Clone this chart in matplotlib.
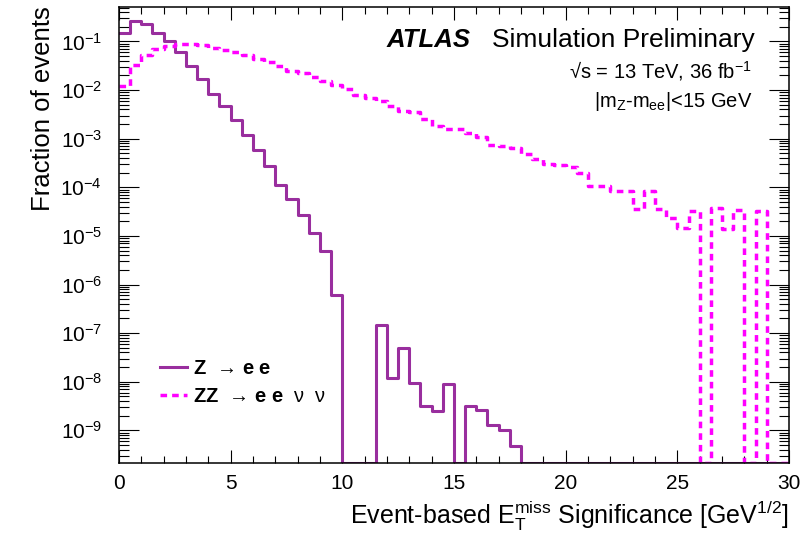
import numpy as np
import matplotlib
matplotlib.use("Agg")
import matplotlib.pyplot as plt
from matplotlib.ticker import LogLocator, NullFormatter, MultipleLocator

plt.rcParams["font.family"] = ["Liberation Sans", "DejaVu Sans"]
plt.rcParams["mathtext.fontset"] = "custom"
plt.rcParams["mathtext.rm"] = "Liberation Sans"
plt.rcParams["mathtext.it"] = "Liberation Sans:italic"
plt.rcParams["mathtext.bf"] = "Liberation Sans:bold"

# binning: 60 bins of 0.5 from 0 to 30
bin_edges = np.linspace(0, 30, 61)

# fraction of events, Z -> ee
z_ee = [
    0.153, 0.27, 0.228, 0.153, 0.103, 0.062, 0.032, 0.017, 0.0084, 0.0046,
    0.00237, 0.00117, 5.8e-4, 2.7e-4, 1.13e-4, 5.7e-5, 2.7e-5, 1.17e-5, 5.0e-6, 6.2e-7,
    0, 0, 0, 1.48e-7, 1.17e-8, 5.0e-8, 9.5e-9, 3.2e-9, 2.45e-9, 8.9e-9,
    0, 3.1e-9, 2.6e-9, 1.29e-9, 1.02e-9, 4.7e-10, 0, 0, 0, 0,
    0, 0, 0, 0, 0, 0, 0, 0, 0, 0,
    0, 0, 0, 0, 0, 0, 0, 0, 0, 0,
]

# fraction of events, ZZ -> ee nu nu
zz_eevv = [
    0.0123, 0.033, 0.052, 0.070, 0.082, 0.088, 0.088, 0.086, 0.075, 0.068,
    0.0605, 0.053, 0.044, 0.037, 0.0317, 0.025, 0.023, 0.0185, 0.0151, 0.0125,
    0.0105, 0.0080, 0.0068, 0.0061, 0.0048, 0.0038, 0.0035, 0.0026, 0.00186, 0.00158,
    0.00158, 0.0013, 0.00106, 7.4e-4, 7.1e-4, 6.5e-4, 4.8e-4, 3.8e-4, 2.95e-4, 2.85e-4,
    2.6e-4, 1.95e-4, 1.05e-4, 1.04e-4, 8.5e-5, 8.5e-5, 3.5e-5, 8.5e-5, 3.5e-5, 2.3e-5,
    1.45e-5, 3.3e-5, 0, 3.7e-5, 1.36e-5, 3.4e-5, 0, 3.2e-5, 0, 0,
]

labels = [
    r"$\mathbf{Z}$  → $\mathbf{e}$ $\mathbf{e}$",
    r"$\mathbf{ZZ}$  → $\mathbf{e}$ $\mathbf{e}$  ν  ν",
]

y_min, y_max = 2.1e-10, 0.52


def as_steps(values):
    # empty bins are drawn along the bottom of the frame, like ROOT does
    v = np.asarray(values, dtype=float)
    v = np.where(v > 0, v, y_min)
    return np.append(v, v[-1])


fig = plt.figure(figsize=(8.03, 5.48), dpi=100)
ax = fig.add_axes([0.148, 0.1546, 0.8346, 0.8332])

ax.step(bin_edges, as_steps(z_ee), where="post", color="#992e9e", lw=2.2,
        label=labels[0])
ax.step(bin_edges, as_steps(zz_eevv), where="post", color="#ff00ff", lw=2.5,
        linestyle=(0, (1.9, 1.45)), label=labels[1])

ax.set_yscale("log")
ax.set_xlim(0, 30)
ax.set_ylim(y_min, y_max)

ax.xaxis.set_major_locator(MultipleLocator(5))
ax.xaxis.set_minor_locator(MultipleLocator(1))
ax.yaxis.set_major_locator(LogLocator(base=10, numticks=100))
ax.yaxis.set_minor_locator(LogLocator(base=10, subs=np.arange(2, 10), numticks=100))
ax.yaxis.set_minor_formatter(NullFormatter())

ax.tick_params(which="both", direction="in", top=True, right=True, width=0.8,
               labelsize=15)
ax.tick_params(axis="x", which="major", length=9.6, pad=8)
ax.tick_params(axis="x", which="minor", length=4.8)
ax.tick_params(axis="y", which="major", length=14.4, pad=12)
ax.tick_params(axis="y", which="minor", length=7.2)
for s in ax.spines.values():
    s.set_linewidth(1.1)

ax.set_xlabel(r"Event-based E$_\mathrm{T}^\mathrm{miss}$ Significance [GeV$^\mathrm{1/2}$]",
              fontsize=18, loc="right")
ax.set_ylabel("Fraction of events", fontsize=18.5, loc="top")

leg = ax.legend(loc="center left", bbox_to_anchor=(0.061, 0.177), frameon=False,
                fontsize=14.5, handlelength=1.35, handletextpad=0.3, borderpad=0,
                borderaxespad=0, labelspacing=0.45)

fig.text(386.7 / 803, 1 - 46.7 / 548, "ATLAS", fontsize=18.5, weight="bold",
         style="italic", ha="left", va="baseline")
fig.text(755 / 803, 1 - 46.7 / 548, "Simulation Preliminary", fontsize=19,
         ha="right", va="baseline")
fig.text(752 / 803, 1 - 78.3 / 548, "\u221As = 13 TeV, 36 fb$^{-1}$", fontsize=14.5,
         ha="right", va="baseline")
fig.text(752 / 803, 1 - 106.7 / 548, r"|m$_\mathrm{Z}$-m$_\mathrm{ee}$|<15 GeV",
         fontsize=14.5, ha="right", va="baseline")

fig.savefig("out.png", dpi=100)
